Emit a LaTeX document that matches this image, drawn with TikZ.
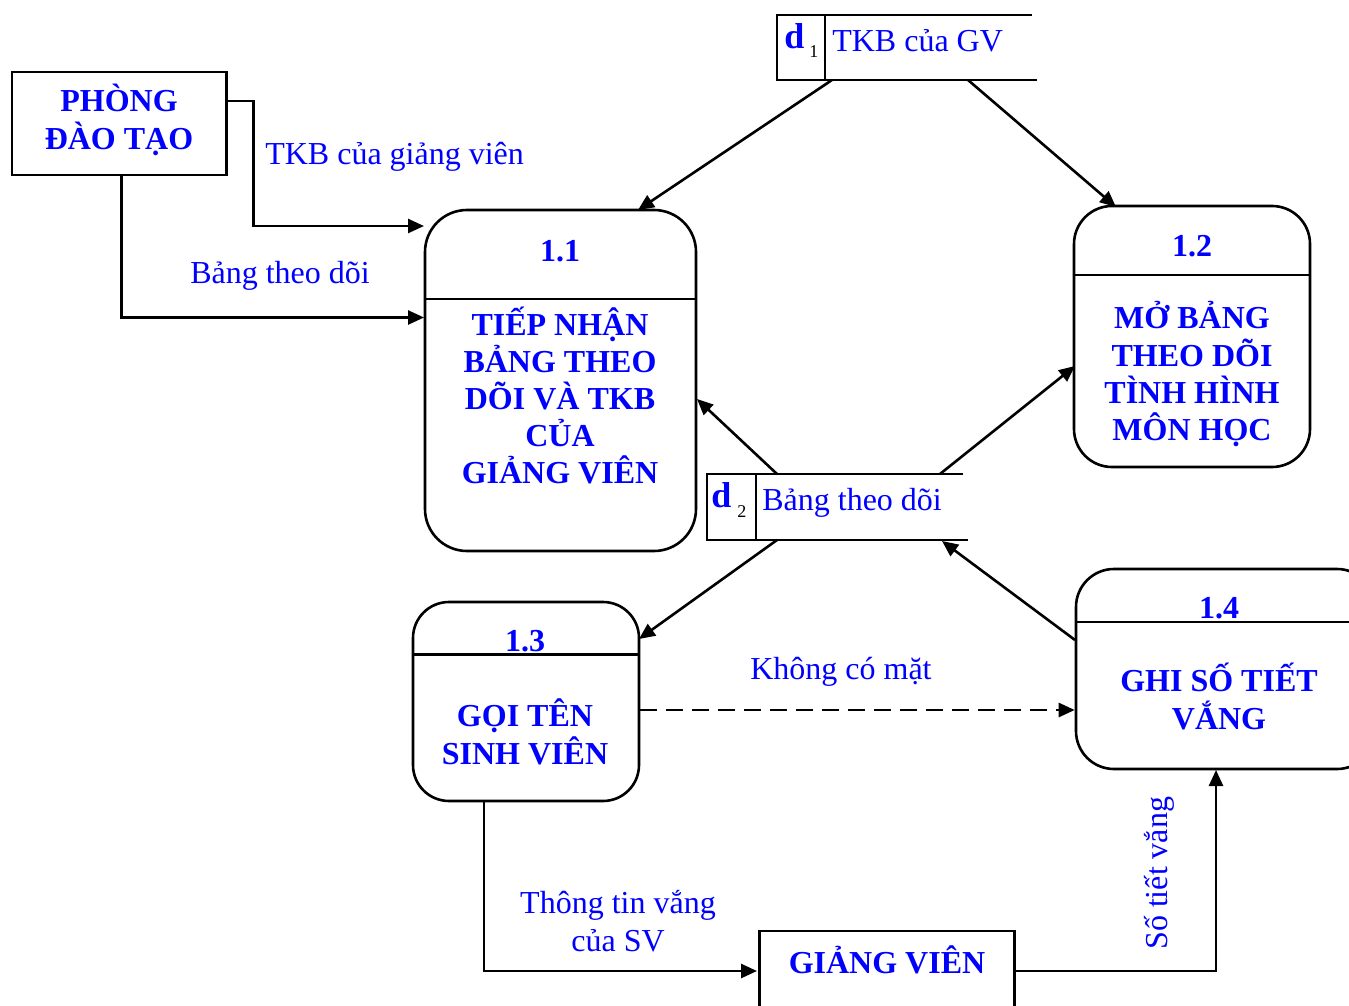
\documentclass[tikz,border=0pt]{standalone}
\usepackage{fontspec}
\setmainfont{Liberation Serif}
\usetikzlibrary{arrows.meta}
\definecolor{dfdblue}{RGB}{0,0,255}
\begin{document}
\begin{tikzpicture}[x=1pt,y=-1pt,line width=2.6pt,
  tip/.style={-{Triangle[length=16pt,width=14pt]}},
  extbox/.style={draw,rectangle,inner sep=0pt},
  procbox/.style={draw,rectangle,rounded corners=#1,inner sep=0pt},
  procbox/.default=40pt,
  head/.style={text=dfdblue,font=\fontsize{32}{37}\selectfont\bfseries,anchor=base,inner sep=0pt},
  flowlbl/.style={text=dfdblue,font=\fontsize{32}{37}\selectfont,anchor=base west,inner sep=0pt},
  idx/.style={text=black,font=\fontsize{18}{20}\selectfont,anchor=base west,inner sep=0pt},
  storeid/.style={text=dfdblue,font=\fontsize{36}{37}\selectfont\bfseries,anchor=base west,inner sep=0pt},
]
\useasboundingbox (0,0) rectangle (1349,1006);
\clip (0,0) rectangle (1349,1006);
\fill[white] (0,0) rectangle (1349,1006);

% external entities
\node[extbox,minimum width=214.5pt,minimum height=103pt] (pdt) at (119.25,123.5) {};
\node[head] (pdtA) at (119,112) {PHÒNG};
\node[head] (pdtB) at (119,149.5) {ĐÀO TẠO};

\node[extbox,minimum width=255pt,minimum height=109pt] (gv) at (887,985.5) {};
\node[head] (gvT) at (887,973) {GIẢNG VIÊN};

% processes
\node[procbox=42pt,minimum width=271pt,minimum height=341pt] (p11) at (560.5,380.5) {};
\draw (p11.west |- 0,299) -- (p11.east |- 0,299);
\node[head] (p11n) at (560,261.5) {1.1};
\node[head] (p11a) at (560,335.5) {TIẾP NHẬN};
\node[head] (p11b) at (560,372.5) {BẢNG THEO};
\node[head] (p11c) at (560,409) {DÕI VÀ TKB};
\node[head] (p11d) at (560,446) {CỦA};
\node[head] (p11e) at (560,483) {GIẢNG VIÊN};

\node[procbox=38pt,minimum width=236pt,minimum height=261pt] (p12) at (1192,336.5) {};
\draw (p12.west |- 0,275) -- (p12.east |- 0,275);
\node[head] (p12n) at (1192,256) {1.2};
\node[head] (p12a) at (1192,328.5) {MỞ BẢNG};
\node[head] (p12b) at (1192,366) {THEO DÕI};
\node[head] (p12c) at (1192,403) {TÌNH HÌNH};
\node[head] (p12d) at (1192,440.5) {MÔN HỌC};

\node[procbox=36pt,minimum width=226pt,minimum height=199pt] (p13) at (526,701.5) {};
\draw (p13.west |- 0,654.5) -- (p13.east |- 0,654.5);
\node[head] (p13n) at (525,651.5) {1.3};
\node[head] (p13a) at (525,726.5) {GỌI TÊN};
\node[head] (p13b) at (525,764) {SINH VIÊN};

\node[procbox=38pt,minimum width=299pt,minimum height=200pt] (p14) at (1225.5,669) {};
\draw (p14.west |- 0,622) -- (p14.east |- 0,622);
\node[head] (p14n) at (1219,618) {1.4};
\node[head] (p14a) at (1219,691.5) {GHI SỐ TIẾT};
\node[head] (p14b) at (1219,729.5) {VẮNG};

% data stores
\draw (1032,15) -- (777,15) -- (777,80) -- (1037,80);
\draw (825,15) -- (825,80);
\node[storeid] (d1d) at (783,49) {d};
\node[idx] (d1i) at (808,58) {1};
\node[flowlbl] (d1) at (831,51.5) {TKB của GV};

\draw (963,474) -- (707,474) -- (707,540) -- (968,540);
\draw (756,474) -- (756,540);
\node[storeid] (d2d) at (710,507) {d};
\node[idx] (d2i) at (736,517) {2};
\node[flowlbl] (d2) at (761,510.5) {Bảng theo dõi};

% connector ends
\coordinate (pdtR) at (226.5,101);
\coordinate (pdtS) at (121.5,175);
\coordinate (p11inA) at (424,226);
\coordinate (p11inB) at (424,317.5);
\coordinate (d1outL) at (832,80);
\coordinate (d1outR) at (968,80);
\coordinate (p11top) at (638,210);
\coordinate (p12top) at (1116,207);
\coordinate (d2topL) at (777,474);
\coordinate (d2topR) at (940,474);
\coordinate (d2botL) at (777,540);
\coordinate (d2botR) at (942,541);
\coordinate (p11side) at (697,399);
\coordinate (p12side) at (1075,366);
\coordinate (p13side) at (639,639);
\coordinate (p14side) at (1075,640);
\coordinate (p13bot) at (484,801);
\coordinate (gvin) at (757,971);
\coordinate (gvout) at (1014.5,971);
\coordinate (p14bot) at (1216,770);

% flows
\draw[tip] (pdtR) -- (253.5,101) |- (p11inA);
\draw[tip] (pdtS) |- (p11inB);
\draw[tip] (d1outL) -- (p11top);
\draw[tip] (d1outR) -- (p12top);
\draw[tip] (d2topL) -- (p11side);
\draw[tip] (d2topR) -- (p12side);
\draw[tip] (d2botL) -- (p13side);
\draw[tip] (p14side) -- (d2botR);
\draw[tip,dash pattern=on 17pt off 9pt] (p13.east |- 0,710) -- (p14.west |- 0,710);
\draw[tip] (p13bot) |- (gvin);
\draw[tip] (gvout) -| (p14bot);

% flow labels
\node[flowlbl] (fA) at (264,164.5) {TKB của giảng viên};
\node[flowlbl] (fB) at (189,283) {Bảng theo dõi};
\node[flowlbl] (fC) at (749,679) {Không có mặt};
\node[text=dfdblue,font=\fontsize{32}{37}\selectfont,anchor=base,inner sep=0pt] (fD1) at (618,913.5) {Thông tin vắng};
\node[text=dfdblue,font=\fontsize{32}{37}\selectfont,anchor=base,inner sep=0pt] (fD2) at (618,951.5) {của SV};
\node[text=dfdblue,font=\fontsize{32}{37}\selectfont,anchor=base west,inner sep=0pt,rotate=90] (fE) at (1167.5,951) {Số tiết vắng};
\end{tikzpicture}
\end{document}
